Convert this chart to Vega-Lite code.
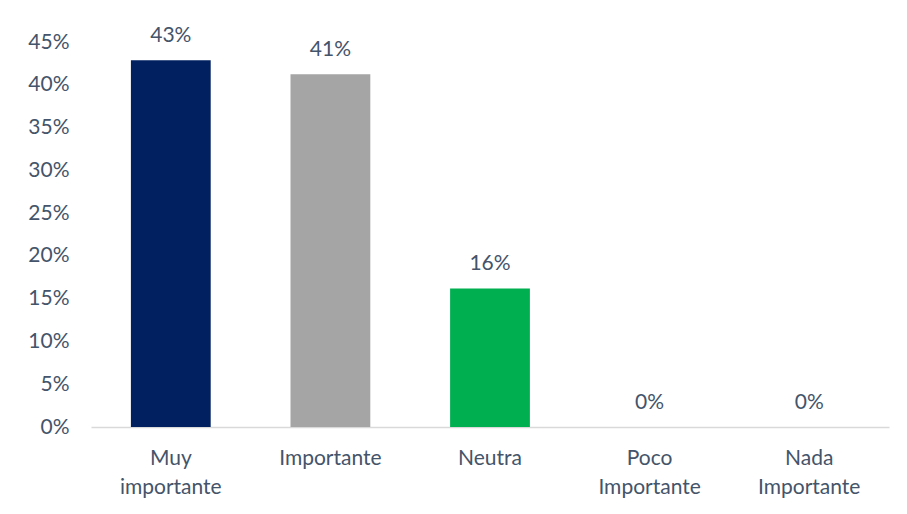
{
  "$schema": "https://vega.github.io/schema/vega-lite/v6.json",
  "width": 798,
  "height": 385,
  "autosize": {"type": "none"},
  "padding": {"left": 91, "top": 42, "right": 18, "bottom": 87},
  "background": "white",
  "config": {
    "view": {"stroke": null},
    "font": "Lato",
    "axis": {"labelFont": "Lato", "labelColor": "#44546A", "labelFontSize": 21, "grid": false, "ticks": false, "title": null}
  },
  "data": {
    "values": [
      {"cat": "Muy importante", "value": 0.4286, "label": "43%"},
      {"cat": "Importante", "value": 0.4123, "label": "41%"},
      {"cat": "Neutra", "value": 0.162, "label": "16%"},
      {"cat": "Poco Importante", "value": 0, "label": "0%"},
      {"cat": "Nada Importante", "value": 0, "label": "0%"}
    ]
  },
  "encoding": {
    "x": {
      "field": "cat", "type": "nominal", "sort": null,
      "scale": {"paddingInner": 0.5, "paddingOuter": 0.25},
      "axis": {"labelAngle": 0, "labelExpr": "split(datum.label, ' ')", "labelPadding": 20, "labelLineHeight": 29, "domainColor": "#D9D9D9", "domainWidth": 1.5}
    },
    "y": {
      "field": "value", "type": "quantitative",
      "scale": {"domain": [0, 0.45]},
      "axis": {"format": ".0%", "values": [0, 0.05, 0.1, 0.15, 0.2, 0.25, 0.3, 0.35, 0.4, 0.45], "domain": false, "labelPadding": 22}
    }
  },
  "layer": [
    {
      "mark": {"type": "bar"},
      "encoding": {
        "color": {
          "field": "cat", "type": "nominal", "legend": null,
          "scale": {
            "domain": ["Muy importante", "Importante", "Neutra", "Poco Importante", "Nada Importante"],
            "range": ["#002060", "#A5A5A5", "#00B050", "#4472C4", "#ED7D31"]
          }
        }
      }
    },
    {
      "mark": {"type": "text", "baseline": "alphabetic", "dy": -18, "fontSize": 21, "color": "#44546A", "font": "Lato"},
      "encoding": {"text": {"field": "label"}}
    }
  ]
}
